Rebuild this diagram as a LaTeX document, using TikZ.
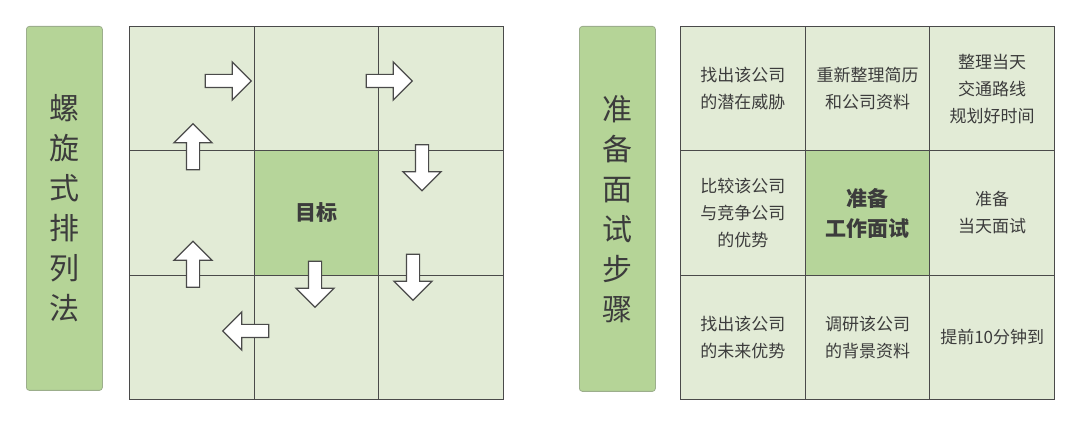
\documentclass[tikz,border=0pt]{standalone}
\usepackage{fontspec}
\setmainfont{Noto Sans CJK SC}
\usetikzlibrary{shapes.arrows}
\definecolor{cellbg}{HTML}{E2EBD6}
\definecolor{goalbg}{HTML}{B6D59A}
\definecolor{sidebg}{HTML}{B5D497}
\definecolor{sideline}{HTML}{9CAE8C}
\definecolor{gridline}{HTML}{4A4A4A}
\definecolor{ink}{HTML}{3C3C3C}
\tikzset{
  cell/.style={draw=gridline,line width=.5pt,fill=cellbg,minimum width=62.33pt,minimum height=62.17pt,
    inner sep=0pt,anchor=north west,align=center,text=ink,font=\fontsize{8.5pt}{13.5pt}\selectfont},
  goal/.style={cell,fill=goalbg,font=\fontsize{10.5pt}{15pt}\selectfont\bfseries},
  sidebar/.style={draw=sideline,fill=sidebg,rounded corners=1.5pt,minimum width=38pt,minimum height=182pt,
    inner sep=0pt,anchor=north west,align=center,text=ink,font=\fontsize{15pt}{20pt}\selectfont},
  turn/.style={single arrow,draw=gridline,fill=white,line width=.6pt,minimum height=23pt,
    inner xsep=0pt,inner ysep=3pt,single arrow head extend=6.25pt}
}
\begin{document}
\begin{tikzpicture}[x=.5pt,y=-.5pt]
\useasboundingbox (0,0) rectangle (1080,426);
% left half: spiral layout
\node[sidebar] (spiral) at (26,26) {螺\\旋\\式\\排\\列\\法};
\foreach \c/\r in {0/0,1/0,2/0,0/1,2/1,0/2,1/2,2/2}
  \node[cell] (l-\r-\c) at ({129+124.67*\c},{26+124.33*\r}) {};
\node[goal] (goal) at ({129+124.67},{26+124.33}) {目标};
\node[turn] (t1) at (225,81) {};
\node[turn] (t2) at (386,81) {};
\node[turn,rotate=-90] (t3) at (422,164.5) {};
\node[turn,rotate=-90] (t4) at (413,274) {};
\node[turn,rotate=-90] (t5) at (315,281) {};
\node[turn,rotate=180] (t6) at (249,331) {};
\node[turn,rotate=90] (t7) at (193,267.5) {};
\node[turn,rotate=90] (t8) at (193,150) {};
% right half: interview steps
\node[sidebar,minimum height=182.5pt] (steps) at (579,26) {准\\备\\面\\试\\步\\骤};
\foreach \c/\r/\txt in {0/0/{找出该公司\\的潜在威胁},1/0/{重新整理简历\\和公司资料},2/0/{整理当天\\交通路线\\规划好时间},
    0/1/{比较该公司\\与竞争公司\\的优势},2/1/{准备\\当天面试},
    0/2/{找出该公司\\的未来优势},1/2/{调研该公司\\的背景资料},2/2/{提前10分钟到}}
  \node[cell] (r-\r-\c) at ({680+124.67*\c},{26+124.33*\r}) {\txt};
\node[goal] (task) at ({680+124.67},{26+124.33}) {准备\\工作面试};
\end{tikzpicture}
\end{document}
